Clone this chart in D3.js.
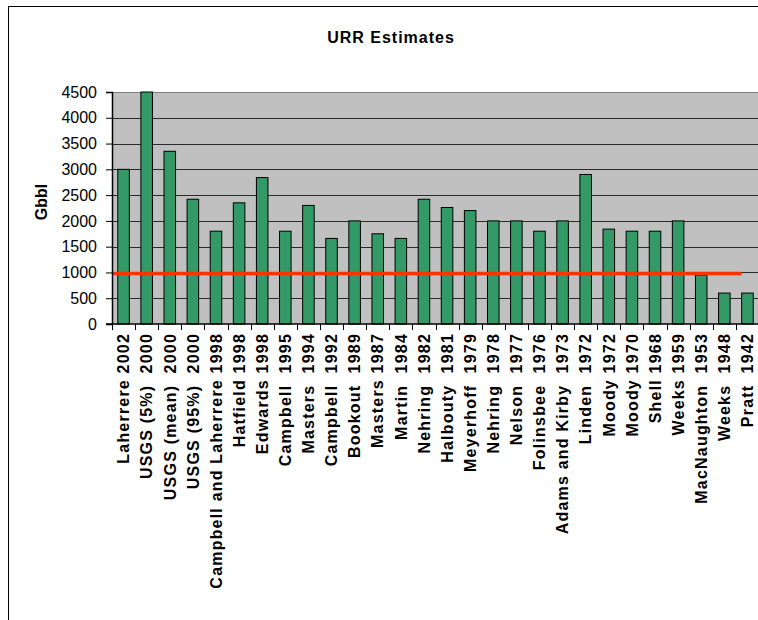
<!DOCTYPE html>
<html>
<head>
<meta charset="utf-8">
<script src="https://cdn.jsdelivr.net/npm/d3@7"></script>
<style>
  body { margin: 0; background: #fff; }
  svg { display: block; font-family: "Liberation Sans", Arial, sans-serif; }
</style>
</head>
<body>
<svg id="chart" width="758" height="620"></svg>
<script>
var categories = [
    "Laherrere 2002", "USGS (5%)  2000", "USGS (mean)  2000", "USGS (95%)  2000",
    "Campbell and Laherrere 1998", "Hatfield 1998", "Edwards 1998", "Campbell  1995",
    "Masters  1994", "Campbell  1992", "Bookout  1989", "Masters 1987", "Martin  1984",
    "Nehring  1982", "Halbouty  1981", "Meyerhoff  1979", "Nehring  1978", "Nelson  1977",
    "Folinsbee  1976", "Adams and Kirby  1973", "Linden  1972", "Moody 1972", "Moody 1970",
    "Shell 1968", "Weeks 1959", "MacNaughton  1953", "Weeks  1948", "Pratt  1942"
];
var urrValues = [
    3000, 4500, 3350, 2420,
    1800, 2350, 2840, 1800,
    2300, 1660, 2000, 1750, 1660,
    2420, 2260, 2200, 2000, 2000,
    1800, 2000, 2900, 1840, 1800,
    1800, 2000, 950, 600, 600
];
var yTicks = [0, 500, 1000, 1500, 2000, 2500, 3000, 3500, 4000, 4500];
// red reference line: level and the last category it runs up to
var refLevel = 980;
var refEndCategory = "Pratt  1942";

var svg = d3.select("#chart");
var plotLeft = 112, plotRight = 759, plotTop = 92, plotBottom = 324;

var x = d3.scaleBand().domain(categories).range([plotLeft, plotRight]).paddingInner(0.5).paddingOuter(0.25);
var y = d3.scaleLinear().domain([0, 4500]).range([plotBottom, plotTop]);

// outer chart frame (cut off at right and bottom)
svg.append("rect")
    .attr("x", 8.5).attr("y", 6.5)
    .attr("width", 800).attr("height", 700)
    .attr("fill", "none").attr("stroke", "#000");

// title
svg.append("text")
    .attr("x", 391).attr("y", 43)
    .attr("text-anchor", "middle")
    .attr("font-size", 16).attr("font-weight", "bold")
    .attr("letter-spacing", 1)
    .text("URR Estimates");

// plot background
svg.append("rect")
    .attr("x", plotLeft).attr("y", plotTop)
    .attr("width", plotRight - plotLeft).attr("height", plotBottom - plotTop)
    .attr("fill", "#c0c0c0");

// gridlines
svg.append("g").selectAll("line")
    .data(yTicks.filter(function (d) { return d > 0; }))
    .enter().append("line")
    .attr("x1", plotLeft).attr("x2", plotRight)
    .attr("y1", function (d) { return Math.round(y(d)) + 0.5; })
    .attr("y2", function (d) { return Math.round(y(d)) + 0.5; })
    .attr("stroke", function (d) { return d === 4500 ? "#808080" : "#2a2a2a"; })
    .attr("stroke-width", 1);

// bars
svg.append("g").selectAll("rect")
    .data(urrValues)
    .enter().append("rect")
    .attr("x", function (d, i) { return x(categories[i]); })
    .attr("y", function (d) { return y(d); })
    .attr("width", x.bandwidth())
    .attr("height", function (d) { return plotBottom - y(d); })
    .attr("fill", "#339966")
    .attr("stroke", "#000")
    .attr("stroke-width", 1);

// reference line
svg.append("line")
    .attr("x1", plotLeft).attr("x2", x(refEndCategory))
    .attr("y1", y(refLevel)).attr("y2", y(refLevel))
    .attr("stroke", "#ff3300")
    .attr("stroke-width", 3.5);

// y axis
var yAxis = svg.append("g")
    .attr("transform", "translate(" + plotLeft + ",0)")
    .call(d3.axisLeft(y).tickValues(yTicks).tickFormat(d3.format("d")).tickSize(6).tickPadding(9));
yAxis.select(".domain").attr("stroke", "#000").attr("stroke-width", 1.5);
yAxis.selectAll("text").attr("font-size", 16).attr("font-family", "Liberation Sans, Arial, sans-serif").attr("fill", "#000");

// x axis line and ticks at band edges
var xAxis = svg.append("g");
xAxis.append("line")
    .attr("x1", plotLeft - 6).attr("x2", plotRight)
    .attr("y1", plotBottom).attr("y2", plotBottom)
    .attr("stroke", "#000").attr("stroke-width", 1.5);
xAxis.selectAll(".tick")
    .data(d3.range(categories.length + 1))
    .enter().append("line")
    .attr("x1", function (i) { return Math.round(plotLeft + i * x.step()) + 0.5; })
    .attr("x2", function (i) { return Math.round(plotLeft + i * x.step()) + 0.5; })
    .attr("y1", plotBottom).attr("y2", plotBottom + 6)
    .attr("stroke", "#000");

// category labels, rotated
xAxis.selectAll(".lab")
    .data(categories)
    .enter().append("text")
    .attr("transform", function (d) {
        return "translate(" + (x(d) + x.bandwidth() / 2) + "," + (plotBottom + 9) + ") rotate(-90)";
    })
    .attr("dy", "0.36em")
    .attr("text-anchor", "end")
    .attr("font-size", 16).attr("font-weight", "bold")
    .attr("letter-spacing", 1.2)
    .style("white-space", "pre")
    .text(function (d) { return d; });

// y axis title
svg.append("text")
    .attr("transform", "translate(47,202) rotate(-90)")
    .attr("text-anchor", "middle")
    .attr("font-size", 16).attr("font-weight", "bold")
    .text("Gbbl");
</script>
</body>
</html>
